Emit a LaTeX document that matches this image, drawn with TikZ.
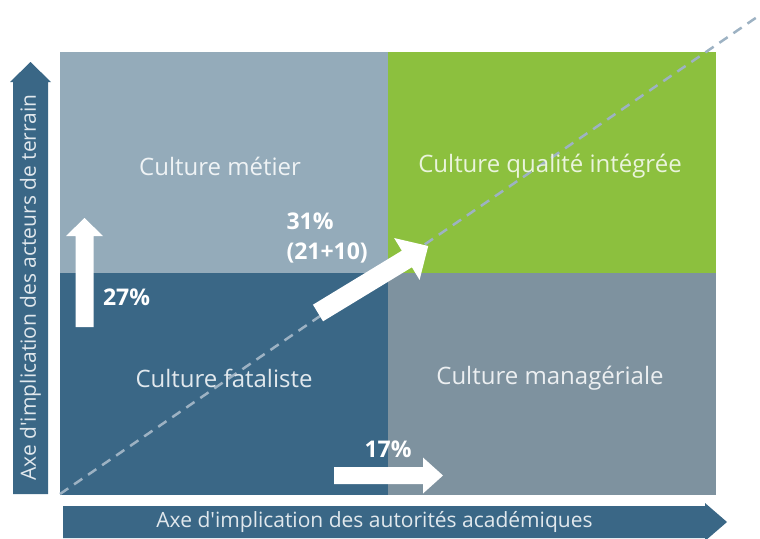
\documentclass[tikz,border=0pt]{standalone}
\usepackage{fontspec}
\setmainfont{Open Sans}
\usepackage{xcolor}
\usepackage{tikz}

\definecolor{metierblue}{HTML}{94ABBA}
\definecolor{qualitegreen}{HTML}{8CC03E}
\definecolor{fatalblue}{HTML}{3A6786}
\definecolor{managergrey}{HTML}{7E929F}
\definecolor{diagline}{HTML}{9DB2C3}

% filled block arrow: style, tail, angle, length, half body, half head, head length
\newcommand{\blockarrow}[7]{%
  \fill[#1, shift={#2}, rotate=#3]
    (0,-#5) -- ({#4-#7},-#5) -- ({#4-#7},-#6) -- (#4,0)
    -- ({#4-#7},#6) -- ({#4-#7},#5) -- (0,#5) -- cycle;}

\begin{document}
\begin{tikzpicture}[x=1pt, y=-1pt,
        quad/.style={rectangle, draw=none, inner sep=0pt, minimum width=328pt, minimum height=222pt},
        quadlabel/.style={font=\fontsize{24}{29}\selectfont},
        pct/.style={text=white, font=\bfseries\fontsize{23}{30}\selectfont, align=left},
        axislabel/.style={text=white!85!fatalblue, font=\fontsize{21}{25}\selectfont},
        axisarrow/.style={fill=fatalblue},
        whitearrow/.style={fill=white}
    ]
        \useasboundingbox (0,0) rectangle (760,538);

        % the four quadrants
        \node[quad, fill=metierblue] (metier) at (223.5,162.5) {};
        \node[quad, fill=qualitegreen] (qualite) at (551.5,162.5) {};
        \node[quad, fill=fatalblue] (fataliste) at (223.5,383.5) {};
        \node[quad, fill=managergrey] (manager) at (551.5,383.5) {};

        % diagonal
        \coordinate (origin) at (60,494);
        \coordinate (diagend) at (760,15);
        \draw[diagline, line width=2.5pt, dash pattern=on 10pt off 7pt] (origin) -- (diagend);

        \node[quadlabel, text=white!85!metierblue] (lmetier) at (220,166) {Culture métier};
        \node[quadlabel, text=white!82!qualitegreen] (lqualite) at (550,166) {Culture qualité intégrée};
        \node[quadlabel, text=white!85!fatalblue] (lfataliste) at (224,378) {Culture fataliste};
        \node[quadlabel, text=white!85!managergrey] (lmanager) at (550,378) {Culture managériale};

        % axes
        \blockarrow{axisarrow}{(30.5,494)}{90}{432}{17.5}{20.5}{20}
        \blockarrow{axisarrow}{(63,522)}{0}{664}{16}{19}{22}
        \node[axislabel, rotate=90] (yaxis) at (30.5,287.5) {Axe d\textquotesingle implication des acteurs de terrain};
        \node[axislabel] (xaxis) at (374.5,522) {Axe d\textquotesingle implication des autorités académiques};

        % progress arrows
        \blockarrow{whitearrow}{(84.5,327)}{90}{109}{9}{18.5}{18}
        \blockarrow{whitearrow}{(334,475.5)}{0}{109}{8.5}{18}{20}
        \blockarrow{whitearrow}{(318,313)}{31.3}{129}{9.7}{24.5}{25}

        \node[pct] (p27) at (126.5,297) {27\%};
        \node[pct] (p17) at (388,449) {17\%};
        \node[pct, anchor=west] (p31) at (283,238) {31\%\\(21+10)};
    \end{tikzpicture}
\end{document}
